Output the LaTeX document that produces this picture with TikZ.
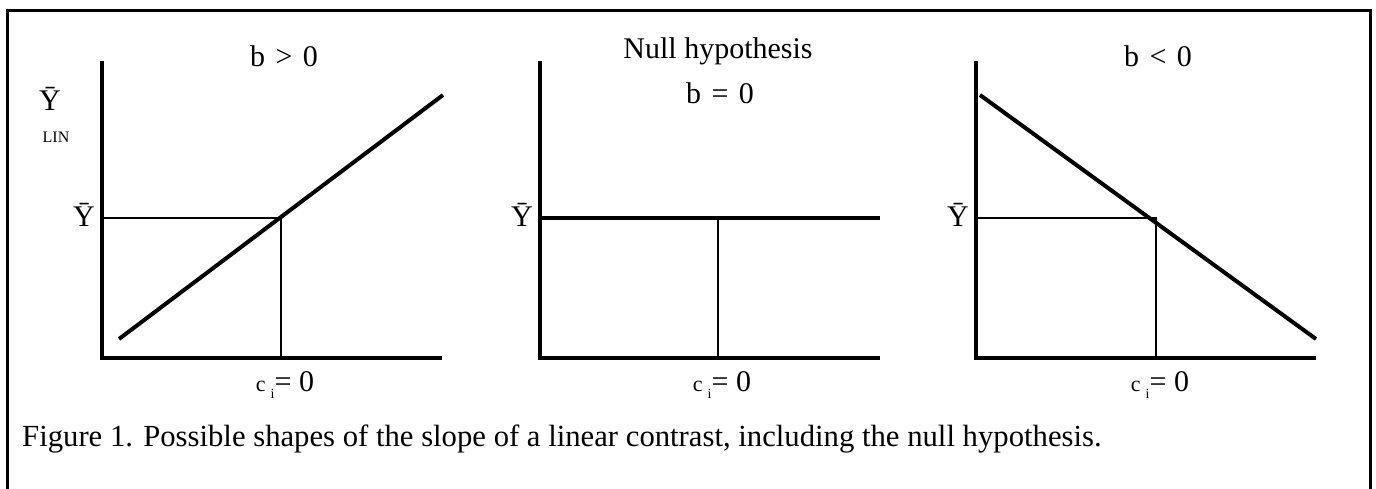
\documentclass[tikz,border=0pt]{standalone}
\usepackage{fontspec}
\setmainfont{Liberation Serif}
\tikzset{
  axisline/.style={line width=4pt},
  slopeline/.style={line width=4pt},
  refline/.style={line width=1.2pt},
  framebox/.style={line width=3pt},
  lbl/.style={font=\fontsize{30}{34}\selectfont, inner sep=0pt},
  caplbl/.style={font=\fontsize{30.7}{34}\selectfont, inner sep=0pt, anchor=base west}
}
\begin{document}
\begin{tikzpicture}[x=1pt,y=-1pt]
\useasboundingbox (0,0) rectangle (1376,489);
% outer frame, open at the bottom
\coordinate (fbl) at (7,489);
\coordinate (ftl) at (7,11);
\coordinate (ftr) at (1370,11);
\coordinate (fbr) at (1370,489);
\draw[framebox] (fbl) -- (ftl) -- (ftr) -- (fbr);
% axes of the three panels
\foreach \ox/\nm in {102/a,540/b,976/c} {
  \coordinate (top\nm) at (\ox,61);
  \coordinate (org\nm) at (\ox,358);
  \coordinate (end\nm) at (\ox+340,358);
  \draw[axisline] (top\nm) -- (org\nm) -- (end\nm);
}
% b > 0
\coordinate (sa0) at (119,339);
\coordinate (sa1) at (443,95);
\coordinate (ya) at (102,218);
\coordinate (ma) at (281,218);
\coordinate (ca) at (281,358);
\draw[refline] (ya) -- (ma) -- (ca);
\draw[slopeline] (sa0) -- (sa1);
% b = 0
\coordinate (yb) at (540,218);
\coordinate (eb) at (880,218);
\coordinate (mb) at (718,218);
\coordinate (cb) at (718,358);
\draw[refline] (mb) -- (cb);
\draw[slopeline] (yb) -- (eb);
% b < 0
\coordinate (sc0) at (980,95);
\coordinate (sc1) at (1316,339);
\coordinate (yc) at (976,218);
\coordinate (mc) at (1156,218);
\coordinate (cc) at (1156,358);
\draw[refline] (yc) -- (mc) -- (cc);
\draw[slopeline] (sc0) -- (sc1);
% labels
\node[lbl] (tita) at (284,56) {b\hspace{0.35em}>\hspace{0.35em}0};
\node[lbl] (titb) at (718,51) {Null hypothesis};
\node[lbl] (titb2) at (720,93) {b\hspace{0.35em}=\hspace{0.35em}0};
\node[lbl] (titc) at (1158,56) {b\hspace{0.35em}<\hspace{0.35em}0};
\node[lbl] (ylin) at (50,99) {\={Y}};
\node[font=\fontsize{16}{18}\selectfont, inner sep=0pt] (ylinsub) at (56,137) {LIN};
\foreach \ox/\nm in {84/a,522/b,958/c} {
  \node[lbl] (ybar\nm) at (\ox,215) {\={Y}};
}
\foreach \cx/\nm in {285/a,722/b,1160/c} {
  \node[lbl] (ci\nm) at (\cx,385) {{\fontsize{22}{24}\selectfont c}\,\raisebox{-0.55ex}{\fontsize{14}{16}\selectfont i}= 0};
}
\node[caplbl] (caption) at (22,446) {Figure 1. Possible shapes of the slope of a linear contrast, including the null hypothesis.};
\end{tikzpicture}
\end{document}
